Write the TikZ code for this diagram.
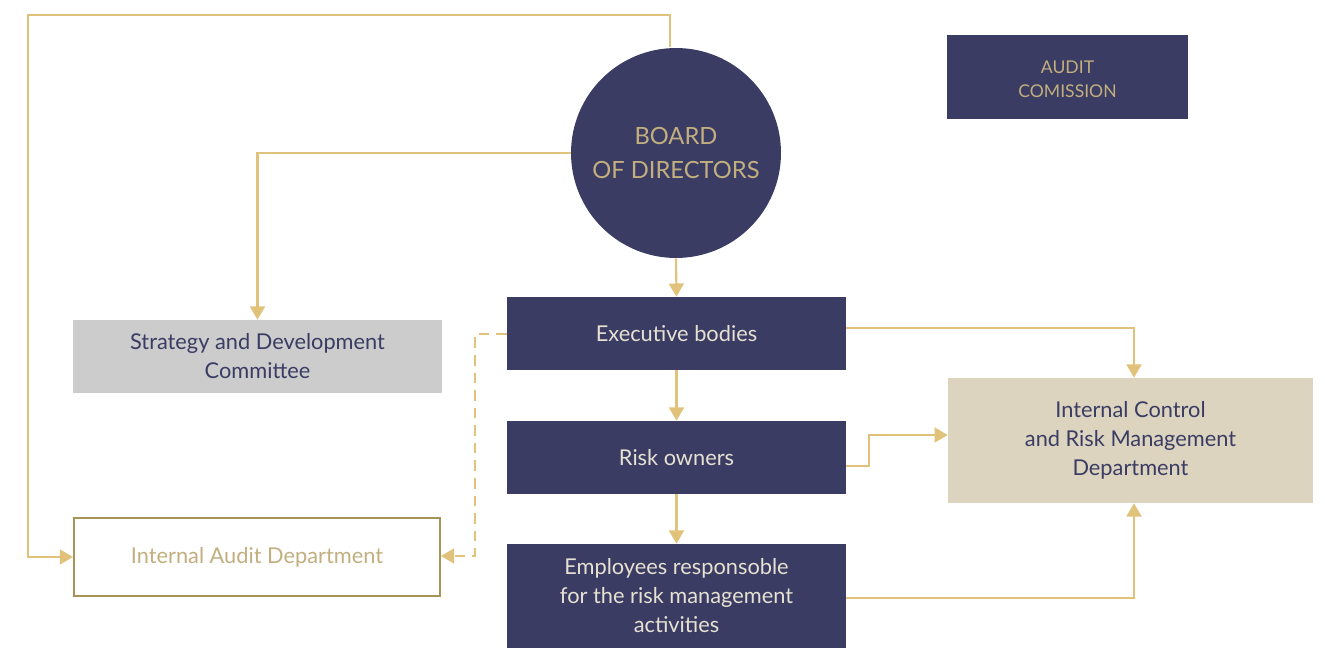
\documentclass[tikz,border=0pt]{standalone}
\usepackage{fontspec}
\setmainfont{Lato}
\usetikzlibrary{arrows.meta}
\definecolor{navy}{HTML}{3A3C63}
\definecolor{gold}{HTML}{E0C27A}
\definecolor{goldtext}{HTML}{C2AE7E}
\definecolor{golddark}{HTML}{A99458}
\definecolor{sand}{HTML}{DDD4C0}
\definecolor{lightgray}{HTML}{CCCCCC}
\tikzset{
  unitbox/.style={rectangle, inner sep=0pt, align=center, font=\fontsize{12.4}{16.5}\selectfont},
  navybox/.style={unitbox, fill=navy, text=sand!70!white},
  link/.style={draw=gold, line width=1.2pt, -{Triangle[length=7.5pt,width=8.5pt]}},
}
\begin{document}
\begin{tikzpicture}[x=0.02cm, y=-0.02cm]
  \useasboundingbox (0,0) rectangle (1325,648);
  % Board
  \node[circle, fill=navy, minimum size=4.2cm, inner sep=0pt, align=center,
        text=goldtext, font=\fontsize{13.5}{19}\selectfont] (board) at (676,153) {BOARD\\OF DIRECTORS};
  % Audit commission
  \node[navybox, text=goldtext, minimum width=4.82cm, minimum height=1.68cm,
        font=\fontsize{10}{14}\selectfont] (audit) at (1067.5,77) {\strut AUDIT\\COMISSION};
  % Executive chain
  \node[navybox, minimum width=6.78cm, minimum height=1.46cm] (exec) at (676.5,333.5) {Executive bodies};
  \node[navybox, minimum width=6.78cm, minimum height=1.46cm] (owners) at (676.5,457.5) {Risk owners};
  \node[navybox, minimum width=6.78cm, minimum height=2.08cm] (empl) at (676.5,596)
        {Employees responsoble\\for the risk management\\activities};
  % Side units
  \node[unitbox, fill=lightgray, text=navy, minimum width=7.38cm, minimum height=1.46cm] (strategy) at (257.5,356.5)
        {Strategy and Development\\Committee};
  \node[unitbox, fill=sand, text=navy, minimum width=7.3cm, minimum height=2.5cm] (control) at (1130.5,440.5)
        {Internal Control\\and Risk Management\\Department};
  \node[unitbox, draw=golddark, line width=1.2pt, text=goldtext, minimum width=7.32cm, minimum height=1.56cm] (iaudit) at (257,557)
        {Internal Audit Department};
  % Connectors
  \coordinate (boardtop) at (670,47);
  \draw[link] (boardtop) |- (28,15) |- (iaudit.west);
  \draw[link] (board.west) -| (strategy.north);
  \draw[link] (board.south) -- (exec.north);
  \draw[link] (exec.south) -- (owners.north);
  \draw[link] (owners.south) -- (empl.north);
  \draw[link] (exec.east |- 0,328) -| (control.north -| 1134,0);
  \draw[link] (owners.east |- 0,466) -- (869,466) |- (control.west |- 0,435);
  \draw[link] (empl.east |- 0,598) -| (control.south -| 1134,0);
  \draw[link, dashed, dash pattern=on 6pt off 4pt] (exec.west |- 0,334) -| (475,556) -- (iaudit.east |- 0,556);
\end{tikzpicture}
\end{document}
